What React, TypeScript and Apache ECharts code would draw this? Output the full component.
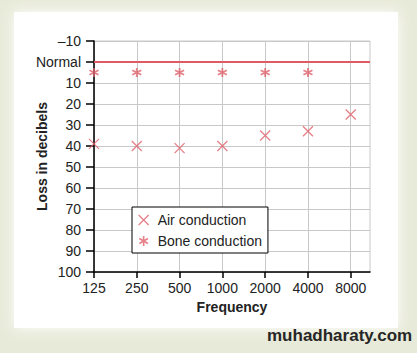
import React, { useEffect, useRef } from "react";
import * as echarts from "echarts";

const frequencies = ["125", "250", "500", "1000", "2000", "4000", "8000"];
const airConduction = [39, 40, 41, 40, 35, 33, 25];
const boneConduction = [5, 5, 5, 5, 5, 5];

const RED = "#e0606a";
const X_PATH = "path://M0,0L10,10M10,0L0,10";
const STAR_PATH = "path://M5,0L5,10M0.67,2.5L9.33,7.5M0.67,7.5L9.33,2.5";
const FONT = "Liberation Sans, Arial, sans-serif";

export default function App() {
  const ref = useRef<HTMLDivElement>(null);
  useEffect(() => {
    document.body.style.margin = "0";
    const chart = echarts.init(ref.current!, null, { renderer: "svg" });
    chart.setOption({
      animation: false,
      backgroundColor: "#e8ead9",
      textStyle: { fontFamily: FONT },
      graphic: [
        {
          type: "rect",
          z: -10,
          silent: true,
          shape: { x: 14, y: 12, width: 384, height: 316 },
          style: { fill: "#ffffff", shadowBlur: 14, shadowColor: "#ffffff" },
        },
        {
          type: "text",
          left: 267,
          top: 327,
          style: {
            text: "muhadharaty.com",
            font: "bold 17px " + FONT,
            fill: "#262626",
          },
        },
      ],
      grid: { left: 94, right: 47, top: 41, bottom: 81, show: true, borderColor: "#c8c8c8", borderWidth: 1 },
      xAxis: {
        type: "value",
        min: 0,
        max: 6.45,
        interval: 1,
        name: "Frequency",
        nameLocation: "middle",
        nameGap: 28,
        nameMoveOverlap: false,
        nameTextStyle: { fontWeight: "bold", fontSize: 14, color: "#222", fontFamily: FONT },
        axisLine: { show: true, onZero: false, lineStyle: { color: "#000", width: 1.5 } },
        axisTick: { show: true, length: 6, lineStyle: { color: "#000", width: 1.5 }, customValues: frequencies.map((_, i) => i) },
        axisLabel: {
          customValues: frequencies.map((_, i) => i),
          formatter: (v: number) => (Number.isInteger(v) && v < frequencies.length ? frequencies[v] : ""),
          fontSize: 14,
          color: "#222",
          margin: 9,
          fontFamily: FONT,
        },
        splitLine: { show: true, lineStyle: { color: "#c8c8c8", width: 1 } },
      },
      yAxis: {
        type: "value",
        inverse: true,
        min: -10,
        max: 100,
        interval: 10,
        name: "Loss in decibels",
        nameLocation: "middle",
        nameGap: 45,
        nameRotate: 90,
        nameMoveOverlap: false,
        nameTextStyle: { fontWeight: "bold", fontSize: 14, color: "#222", fontFamily: FONT },
        axisLine: { show: true, onZero: false, lineStyle: { color: "#000", width: 1.5 } },
        axisTick: { show: true, length: 8, lineStyle: { color: "#000", width: 1.5 } },
        axisLabel: {
          formatter: (v: number) => (v === 0 ? "Normal" : v < 0 ? "\u2013" + Math.abs(v) : String(v)),
          fontSize: 14,
          color: "#222",
          margin: 13,
          fontFamily: FONT,
        },
        splitLine: { show: true, lineStyle: { color: "#c8c8c8", width: 1 } },
      },
      legend: {
        orient: "vertical",
        left: 132,
        top: 207,
        backgroundColor: "#fff",
        borderColor: "#000",
        borderWidth: 1,
        padding: [6, 6, 5, 6],
        itemGap: 7,
        itemWidth: 10,
        itemHeight: 10,
        textStyle: { fontSize: 14, color: "#222", fontFamily: FONT, padding: [0, 0, 0, 4] },
        data: [
          {
            name: "Air conduction",
            icon: X_PATH,
            itemStyle: { color: "transparent", borderColor: RED, borderWidth: 1.3 },
          },
          {
            name: "Bone conduction",
            icon: STAR_PATH,
            itemStyle: { color: "transparent", borderColor: RED, borderWidth: 1.6 },
          },
        ],
      },
      series: [
        {
          name: "Air conduction",
          type: "scatter",
          symbol: X_PATH,
          symbolSize: 10,
          itemStyle: { color: "transparent", borderColor: RED, borderWidth: 1.3 },
          data: airConduction.map((v, i) => [i, v]),
        },
        {
          name: "Bone conduction",
          type: "scatter",
          symbol: STAR_PATH,
          symbolSize: 9,
          itemStyle: { color: "transparent", borderColor: RED, borderWidth: 1.8 },
          data: boneConduction.map((v, i) => [i, v]),
          markLine: {
            silent: true,
            symbol: ["none", "none"],
            label: { show: false },
            lineStyle: { color: "#e05a64", width: 2.2, type: "solid" },
            data: [{ yAxis: 0 }],
          },
        },
      ],
    });
    return () => chart.dispose();
  }, []);
  return <div ref={ref} style={{ width: 417, height: 353, position: "absolute", left: 0, top: 0 }} />;
}
